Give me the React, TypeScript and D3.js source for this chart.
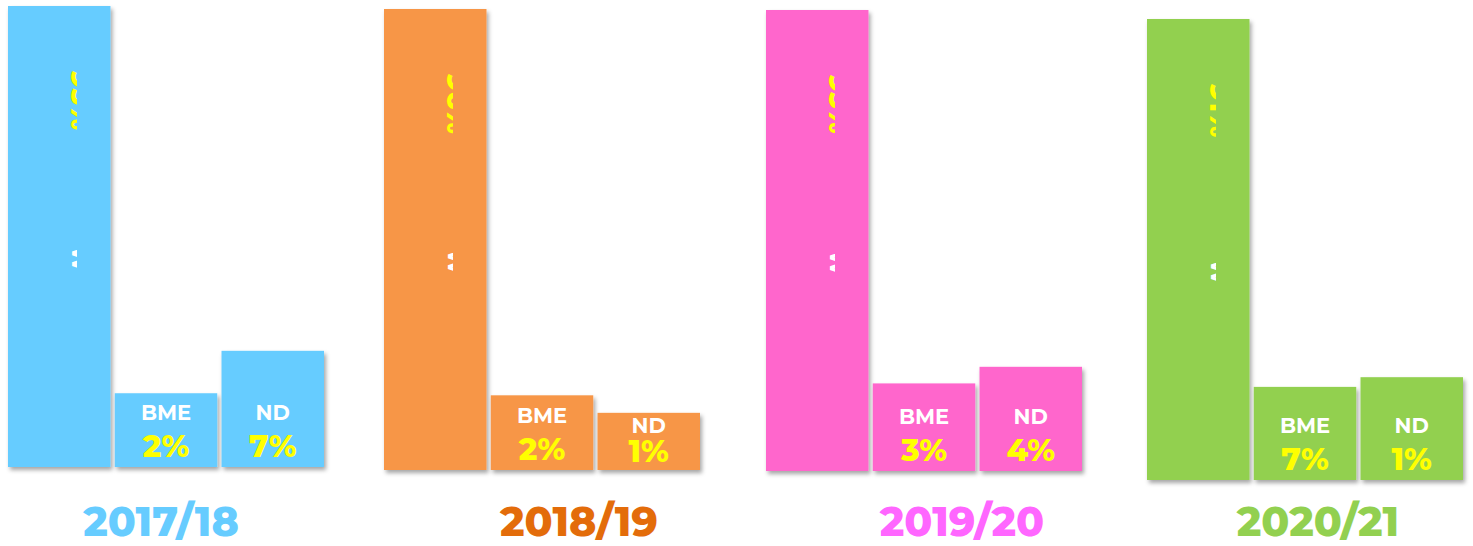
import React from "react";
import * as d3 from "d3";

// ---- data ----
const years = ["2017/18", "2018/19", "2019/20", "2020/21"];
const yearColors = ["#66CCFF", "#F79646", "#FF66CC", "#92D050"];
const yearLabelColors = ["#66CCFF", "#E36C0A", "#FF66FF", "#92D050"];
const categories = ["Total", "BME", "ND"];
// bar levels (visual size units, tall bar = 100)
const totalLevels = [100, 100, 100, 100];
const bmeLevels = [16, 16.2, 19, 20.2];
const ndLevels = [25.2, 12.4, 22.6, 22.3];
const bmePct = ["2%", "2%", "3%", "7%"];
const ndPct = ["7%", "1%", "4%", "1%"];
const totalPct = ["95%", "96%", "93%", "91%"];
const totalName = ["Women", "Women", "Women", "Women"];

const W = 1473;
const H = 546;
const baseY = 470;
const groupShift = [-3, 0, 1, 10];
const groupShiftX = [0, -4, -2, -1];
const labelOffsetX = [153, 191, 194, 170];

export default function App() {
  const xGroup = d3.scaleBand<string>().domain(years).range([8, 8 + 4 * 380]).paddingInner(0).paddingOuter(0);
  const xInner = d3.scaleBand<string>().domain(categories).range([0, 316]).paddingInner(0.04).paddingOuter(0);
  const y = d3.scaleLinear().domain([0, 100]).range([0, 461]);
  const font = "'Montserrat','Open Sans', sans-serif";

  return (
    <svg width={W} height={H} style={{ display: "block", position: "absolute", left: 0, top: 0 }}>
      <defs>
        <filter id="sh" x="-20%" y="-20%" width="140%" height="140%">
          <feDropShadow dx="2" dy="3" stdDeviation="2.2" floodColor="#000" floodOpacity="0.35" />
        </filter>
        {years.map((yr, i) => {
          const gx = xGroup(yr)! + groupShiftX[i];
          const tallX = gx + xInner("Total")!;
          const tallTop = baseY + groupShift[i] - y(totalLevels[i]);
          return (
            <React.Fragment key={yr}>
              <clipPath id={`clipY${i}`} clipPathUnits="userSpaceOnUse">
                <rect x={tallX + 62} y={tallTop + 60} width={7} height={70} />
              </clipPath>
              <clipPath id={`clipW${i}`} clipPathUnits="userSpaceOnUse">
                <rect x={tallX + 63} y={tallTop + 244} width={6} height={20} />
              </clipPath>
            </React.Fragment>
          );
        })}
      </defs>
      <rect width={W} height={H} fill="#fff" />
      {years.map((yr, i) => {
        const gx = xGroup(yr)! + groupShiftX[i];
        const base = baseY + groupShift[i];
        const color = yearColors[i];
        const levels = [totalLevels[i], bmeLevels[i], ndLevels[i]];
        const bw = xInner.bandwidth();
        const tallX = gx + xInner("Total")!;
        const tallTop = base - y(levels[0]);
        return (
          <g key={yr}>
            {categories.map((c, j) => {
              const h = y(levels[j]);
              return (
                <rect key={c} x={gx + xInner(c)!} y={base - h} width={bw} height={h} fill={color} filter="url(#sh)" />
              );
            })}
            <g clipPath={`url(#clipY${i})`}>
              <text
                transform={`translate(${tallX + 63},${tallTop + 64}) rotate(90)`}
                fill="#FFFF00"
                fontFamily={font}
                fontWeight={800}
                fontSize={28}
              >
                {totalPct[i]}
              </text>
            </g>
            <g clipPath={`url(#clipW${i})`}>
              <text
                transform={`translate(${tallX + 64},${tallTop + 240}) rotate(90)`}
                fill="#fff"
                fontFamily={font}
                fontWeight={700}
                fontSize={22}
              >
                {totalName[i]}
              </text>
            </g>
            {[1, 2].map((j) => {
              const c = categories[j];
              const h = y(levels[j]);
              const top = base - h;
              const cx = gx + xInner(c)! + bw / 2;
              const compact = h < 65;
              const nameY = compact ? top + 20 : base - 47;
              const pctY = compact ? top + 49 : base - 10;
              return (
                <g key={c} fontFamily={font} textAnchor="middle">
                  <text x={cx} y={nameY} fill="#fff" fontWeight={700} fontSize={21}>
                    {c}
                  </text>
                  <text x={cx} y={pctY} fill="#FFFF00" fontWeight={800} fontSize={31}>
                    {j === 1 ? bmePct[i] : ndPct[i]}
                  </text>
                </g>
              );
            })}
            <text
              x={xGroup(yr)! + labelOffsetX[i]}
              y={536}
              textAnchor="middle"
              fill={yearLabelColors[i]}
              fontFamily={font}
              fontWeight={800}
              fontSize={41}
            >
              {yr}
            </text>
          </g>
        );
      })}
    </svg>
  );
}
